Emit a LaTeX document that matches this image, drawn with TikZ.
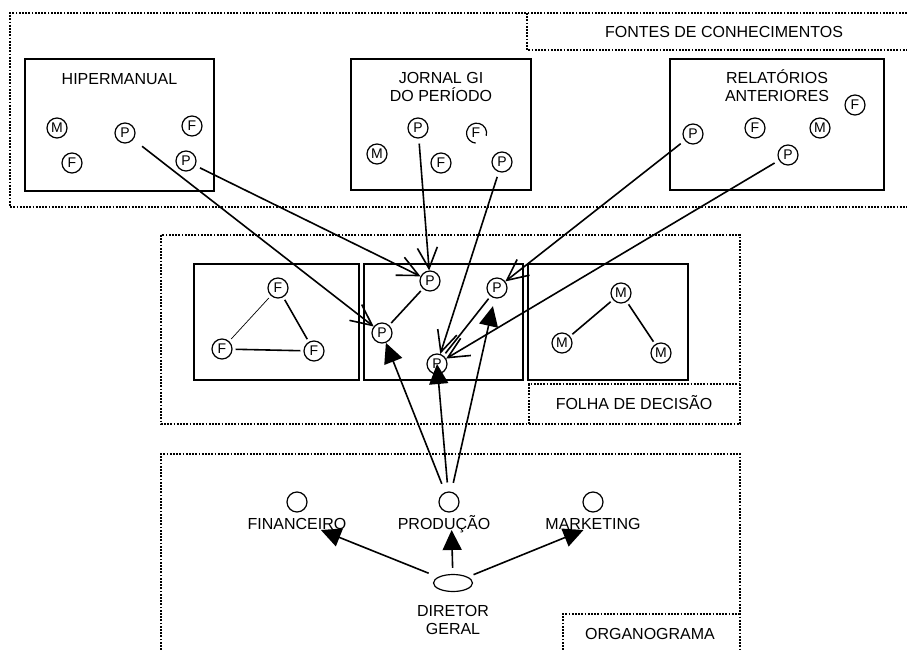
\documentclass[tikz,border=0pt]{standalone}
\usepackage{fontspec}
\setmainfont{Liberation Sans}
\usetikzlibrary{arrows.meta,positioning,shapes.geometric}

\begin{document}
\begin{tikzpicture}[x=1pt,y=-1pt,
  zona/.style={line width=1.8pt,dash pattern=on 1.8pt off 1.4pt},
  caixa/.style={draw,line width=2pt,anchor=north west,inner sep=0pt},
  no/.style={circle,draw,line width=1.2pt,minimum size=20pt,inner sep=0pt,font=\fontsize{14}{14}\selectfont},
  rot/.style={font=\fontsize{16}{17.5}\selectfont,inner sep=0pt,text height=11.5pt,text depth=0pt},
  titulo/.style={font=\fontsize{16}{17.5}\selectfont,inner sep=0pt,align=center},
  liga/.style={line width=1.6pt,shorten <=3pt,shorten >=3pt},
  seta/.style={line width=1.6pt,shorten <=5pt,-{Straight Barb[length=21pt,width=20pt]}},
  cheia/.style={line width=1.6pt,-{Triangle[length=20pt,width=19pt]}}]
\useasboundingbox (0,0) rectangle (907,650);

% zonas pontilhadas
\draw[zona] (907,13) -- (10,13) -- (10,207) -- (907,207);
\draw[zona] (527,13) -- (527,50) -- (907,50);
\draw[zona] (161,235) rectangle (740,424);
\draw[zona] (529,424) -- (529,384) -- (740,384);
\draw[zona] (161,650) -- (161,454) -- (740,454) -- (740,650);
\draw[zona] (563,650) -- (563,614) -- (740,614);
\node[rot] (tfon) at (724,32) {FONTES DE CONHECIMENTOS};
\node[rot] (tfol) at (634,404) {FOLHA DE DECISÃO};
\node[rot] (torg) at (650,634) {ORGANOGRAMA};

% fontes de conhecimentos
\node[caixa,minimum width=189pt,minimum height=132pt] (hip) at (24,58) {};
\node[caixa,minimum width=180pt,minimum height=131pt] (jor) at (350,58) {};
\node[caixa,minimum width=214pt,minimum height=131pt] (rel) at (669,58) {};
\node[rot,below=14.5pt of hip.north] (thip) {HIPERMANUAL};
\node[titulo,below=14.5pt of jor.north] (tjor) {JORNAL GI\\DO PERÍODO};
\node[titulo,below=11.5pt of rel.north] (trel) {RELATÓRIOS\\ANTERIORES};
\foreach \n/\l/\x/\y in {mh/M/57/128, ph1/P/125/133, fh1/F/192/126, fh2/F/72/163,
    ph2/P/186/161, pj1/P/418/128, mj/M/377/154, fj1/F/441/163, pj2/P/502/162,
    fr1/F/855/105, pr1/P/693/134, fr2/F/755/128, mr/M/820/128, pr2/P/788/155}
  \node[no] (\n) at (\x,\y) {\l};
\node[no,draw=none] (fj2) at (476,133) {F};
\draw[line width=1.2pt] (fj2.-15) arc[start angle=-15,end angle=265,radius=10pt];

% folha de decisao
\node[caixa,minimum width=165pt,minimum height=116pt] (fd1) at (193,263) {};
\node[caixa,minimum width=159pt,minimum height=116pt] (fd2) at (363,263) {};
\node[caixa,minimum width=160pt,minimum height=116pt] (fd3) at (527,263) {};
\foreach \n/\l/\x/\y in {ft/F/278/288, fl/F/222/349, fr/F/314/351,
    pt/P/430/281, pl/P/382/333, pr/P/497/288, pb/P/437/364,
    mt/M/621/293, ml/M/562/343, mrr/M/661/353}
  \node[no] (\n) at (\x,\y) {\l};
\draw[liga,line width=0.7pt] (ft) -- (fl);
\draw[liga] (ft) -- (fr);
\draw[liga] (fl) -- (fr);
\draw[liga] (pt) -- (pl);
\draw[liga] (pr) -- (pb);
\draw[liga] (mt) -- (ml);
\draw[liga] (mt) -- (mrr);

\draw[seta,shorten <=11pt] (ph1) -- (pl);
\draw[seta] (ph2) -- (pt);
\draw[seta] (pj1) -- (pt);
\draw[seta] (pj2) -- (pb);
\draw[seta] (pr1) -- (pr);
\draw[seta] (pr2) -- (pb);

% organograma
\node[no] (cfin) at (297,502) {};
\node[no] (cprod) at (449,502) {};
\node[no] (cmkt) at (593,502) {};
\node[rot,below=5.5pt of cfin] (lfin) {FINANCEIRO};
\node[rot,below=5.5pt of cprod,xshift=-5pt] (lprod) {PRODUÇÃO};
\node[rot,below=5.5pt of cmkt] (lmkt) {MARKETING};
\node[ellipse,draw,line width=1.2pt,minimum width=39pt,minimum height=17pt,inner sep=0pt] (dg) at (453,583) {};
\node[titulo,below=13.5pt of dg] (tdg) {DIRETOR\\GERAL};

\draw[cheia,shorten <=10pt] (dg) -- (lfin.-14);
\draw[cheia,shorten <=6pt] (dg) -- (lprod.-38);
\draw[cheia,shorten <=6pt] (dg) -- (lmkt.-148);

\draw[cheia,shorten <=9pt] (cprod) -- (pl);
\draw[cheia,shorten <=9pt] (cprod) -- (pb.center);
\draw[cheia,shorten <=9pt,shorten >=8pt] (cprod) -- (pr);
\end{tikzpicture}
\end{document}
